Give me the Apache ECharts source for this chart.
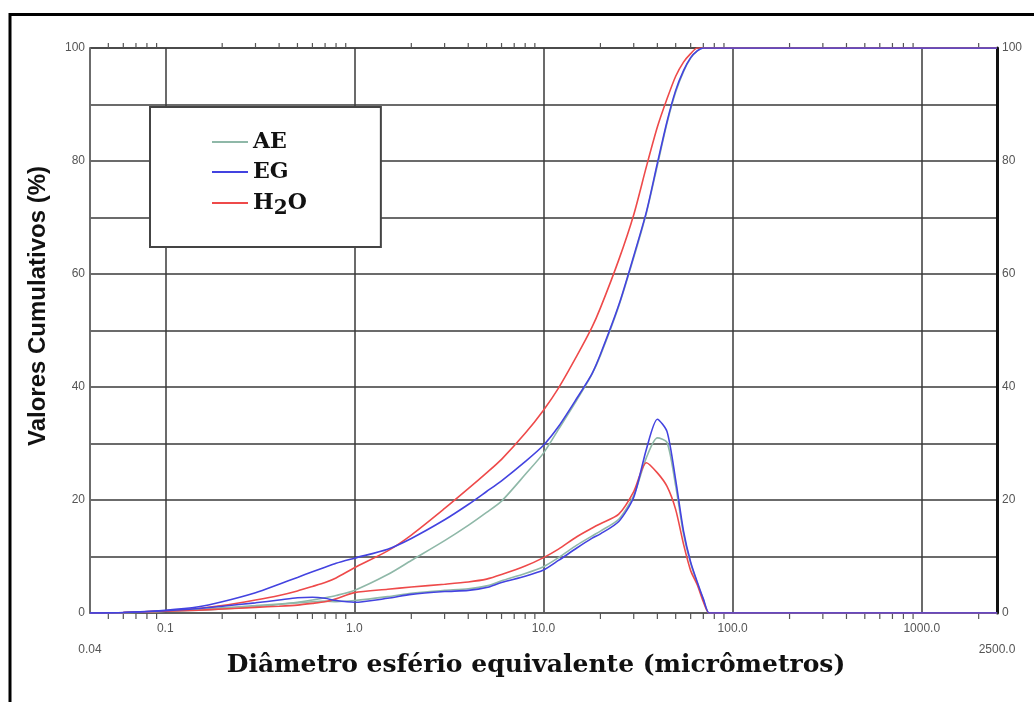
<!DOCTYPE html>
<html>
<head>
<meta charset="utf-8">
<script src="https://cdn.jsdelivr.net/npm/echarts@6/dist/echarts.min.js"></script>
<style>html,body{margin:0;padding:0;background:#fff;}#c{width:1034px;height:702px;}</style>
</head>
<body>
<div id="c"></div>
<script>
// Diameters (micrometres) at which the curves were read
const sizes = [0.04,0.06,0.1,0.15,0.2, 0.3,0.4,0.5,0.6,0.7, 0.8,1,1.5,2,3, 4,5,6,8,10, 12,15,18,20,25, 30,35,40,45,50, 55,60,65,70,75, 80,100,200,500,1000, 2500];
// Cumulative values (%)
const aeCum  = [0,0.05,0.3,0.5,0.7, 1.1,1.5,1.9,2.3,2.7, 3.1,4.0,6.8,9.3,12.8, 15.5,17.8,19.8,24.5,28.3, 32.5,37.7,42.2,45.6,54.3, 62.9,70.8,79.2,86.7,92.2, 95.8,98.2,99.5,100,100, 100,100,100,100,100, 100];
const egCum  = [0,0.1,0.5,1.1,2.0, 3.6,5.1,6.3,7.3,8.1, 8.8,9.7,11.3,13.2,16.5, 19.2,21.5,23.4,26.8,29.7, 33,38,42.3,45.8,54.5, 63.2,71,79.6,87,92.5, 96,98.3,99.5,100,100, 100,100,100,100,100, 100];
const h2oCum = [0,0.1,0.4,0.8,1.3, 2.3,3.1,3.9,4.7,5.4, 6.2,8.0,11,13.8,18.5, 22,24.8,27.2,31.8,35.9, 39.8,45.5,50.5,54,62.5, 70.5,79,86,91,95, 97.5,99,100,100,100, 100,100,100,100,100, 100];
// Frequency curves (lower curves)
const aeFreq  = [0,0.05,0.3,0.6,0.9, 1.3,1.6,1.8,2.0,2.1, 2.0,2.2,2.9,3.5,4.0, 4.3,4.8,5.7,7.0,8.2, 9.8,12,13.6,14.5,16.6, 20.8,27.5,31,30.2,22.5, 14,8.8,5.3,2.4,0, 0,0,0,0,0, 0];
const egFreq  = [0,0.1,0.4,0.8,1.2, 1.8,2.3,2.7,2.8,2.6, 2.2,1.9,2.6,3.3,3.8, 4.0,4.5,5.4,6.5,7.6, 9.3,11.5,13.2,14,16.2, 20.5,29,34.3,32.1,23.5, 14.5,9,5.5,2.5,0, 0,0,0,0,0, 0];
const h2oFreq = [0,0.1,0.3,0.5,0.7, 1.0,1.2,1.4,1.7,2.0, 2.5,3.6,4.2,4.6,5.1, 5.5,6.0,6.8,8.3,9.8, 11.3,13.5,15,15.8,17.5, 21.5,26.6,24.8,22.4,18.3, 12.2,7.5,5.0,2.0,0, 0,0,0,0,0, 0];

const seriesNames = ['AE','EG','H₂O'];
const yTickLabels = [0,20,40,60,80,100];

// log-scale minor tick positions (2..9 within each decade)
const minorTicks = [];
[0.01,0.1,1,10,100,1000].forEach(d => { for (let m = 2; m <= 9; m++) { const v = +(d*m).toPrecision(3); if (v > 0.04 && v < 2500) minorTicks.push(v); } });

const colAE = '#8fb8a8', colEG = '#4343e0', colH2O = '#ee4a4a';
const pair = arr => sizes.map((s, i) => [s, arr[i]]);

const chart = echarts.init(document.getElementById('c'));
const lineBase = { type: 'line', showSymbol: false, smooth: 0.25, lineStyle: { width: 1.6 } };

function xLabel(v) {
  if (Math.abs(v - 0.04) < 1e-6) return '\n0.04';
  if (Math.abs(v - 2500) < 1e-3) return '\n2500.0';
  return (+v).toFixed(1);
}

chart.setOption({
  animation: false,
  backgroundColor: '#fff',
  grid: { left: 90, right: 37, top: 48, bottom: 89, show: true, borderColor: '#555', borderWidth: 1.5, backgroundColor: 'transparent' },
  legend: {
    data: seriesNames,
    orient: 'vertical', left: 150, top: 107,
    backgroundColor: '#fff', borderColor: '#444', borderWidth: 2,
    padding: [20, 74, 28, 62],
    itemGap: 0, itemWidth: 36, itemHeight: 2, icon: 'rect',
    formatter: n => n === 'H₂O' ? 'H{sub|2}O' : n,
    textStyle: { fontFamily: 'DejaVu Serif', fontWeight: 'bold', fontSize: 22, color: '#111', lineHeight: 30,
      rich: { sub: { fontFamily: 'DejaVu Serif', fontWeight: 'bold', fontSize: 20, color: '#111', lineHeight: 18, padding: [12,0,0,0] } } }
  },
  xAxis: {
    type: 'log', logBase: 10, min: 0.04, max: 2500,
    axisLine: { show: true, lineStyle: { color: '#666', width: 1.5 } },
    axisTick: { show: false },
    splitLine: { show: true, lineStyle: { color: '#3a3a3a', width: 1.5 } },
    axisLabel: { formatter: xLabel, color: '#555', fontFamily: 'Liberation Sans', fontSize: 12, margin: 5, lineHeight: 21 }
  },
  yAxis: [
    { type: 'value', min: 0, max: 100, interval: 10, position: 'left',
      axisLine: { show: true, lineStyle: { color: '#777', width: 1.5 } },
      axisTick: { show: false },
      splitLine: { show: true, lineStyle: { color: '#3a3a3a', width: 1.5 } },
      axisLabel: { formatter: v => yTickLabels.includes(v) ? String(v) : '', color: '#555', fontFamily: 'Liberation Sans', fontSize: 12, margin: 5 } },
    { type: 'value', min: 0, max: 100, interval: 10, position: 'right',
      axisLine: { show: true, lineStyle: { color: '#111', width: 3 } },
      axisTick: { show: false },
      splitLine: { show: false },
      axisLabel: { formatter: v => yTickLabels.includes(v) ? String(v) : '', color: '#555', fontFamily: 'Liberation Sans', fontSize: 12, margin: 5 } }
  ],
  series: [
    { type: 'custom', name: 'ticks', silent: true, clip: false, z: 1,
      data: minorTicks.map(v => [v, 0]),
      renderItem: (params, api) => {
        const x = api.value(0);
        const b = api.coord([x, 0]);
        const t = api.coord([x, 100]);
        const st = { stroke: '#555', lineWidth: 1.2 };
        return { type: 'group', children: [
          { type: 'line', shape: { x1: b[0], y1: b[1], x2: b[0], y2: b[1] + 6 }, style: st },
          { type: 'line', shape: { x1: t[0], y1: t[1], x2: t[0], y2: t[1] - 5 }, style: st }
        ] };
      } },
    Object.assign({}, lineBase, { name: 'AE', data: pair(aeCum), color: colAE, z: 3 }),
    Object.assign({}, lineBase, { name: 'H₂O', data: pair(h2oCum), color: colH2O, z: 3 }),
    Object.assign({}, lineBase, { name: 'EG', data: pair(egCum), color: colEG, z: 4 }),
    Object.assign({}, lineBase, { name: 'AE', data: pair(aeFreq), color: colAE, z: 3 }),
    Object.assign({}, lineBase, { name: 'H₂O', data: pair(h2oFreq), color: colH2O, z: 3 }),
    Object.assign({}, lineBase, { name: 'EG', data: pair(egFreq), color: colEG, z: 4 })
  ],
  graphic: [
    { type: 'rect', shape: { x: 10, y: 14.5, width: 1200, height: 900 }, style: { fill: 'none', stroke: '#000', lineWidth: 3 }, silent: true },
    { type: 'text', x: 38, y: 306, rotation: Math.PI / 2,
      style: { text: 'Valores Cumulativos (%)', font: 'bold 24px "Liberation Sans"', fill: '#111', textAlign: 'center', textVerticalAlign: 'middle' } },
    { type: 'text', x: 536, y: 665,
      style: { text: 'Diâmetro esfério equivalente (micrômetros)', font: 'bold 25px "DejaVu Serif"', fill: '#111', textAlign: 'center', textVerticalAlign: 'middle' } }
  ]
});
</script>
</body>
</html>
